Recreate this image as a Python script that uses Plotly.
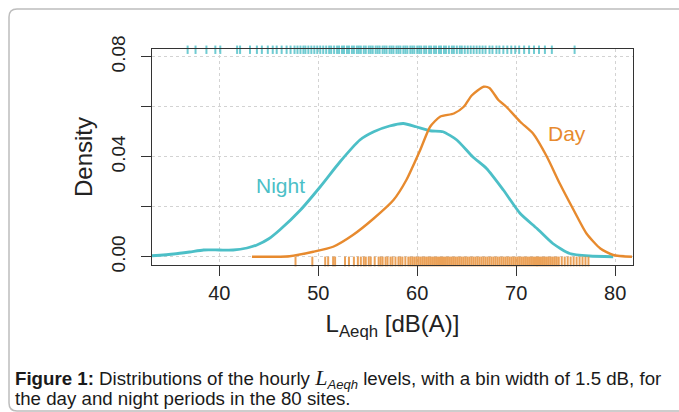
import plotly.graph_objects as go

# ---- data ----
night_x = [33.2, 35.4, 37.0, 38.4, 40.0, 41.4, 42.8, 43.8, 45.0, 46.1, 48.2, 50.2, 52.2, 54.2, 55.6,
           57.2, 58.6, 59.9, 61.3, 62.6, 64.0, 65.6, 67.0, 68.7, 70.4, 72.1, 73.7, 75.4, 77.4, 79.8]
night_y = [0.0004, 0.0011, 0.0019, 0.0027, 0.0027, 0.0027, 0.0035, 0.0047, 0.0072, 0.0107, 0.0187,
           0.0280, 0.0380, 0.0467, 0.0500, 0.0523, 0.0533, 0.0520, 0.0504, 0.0500, 0.0467, 0.0400,
           0.0353, 0.0267, 0.0173, 0.0113, 0.0053, 0.0013, 0.0003, 0.0000]

day_x = [43.3, 47.1, 49.5, 51.5, 53.5, 55.6, 57.6, 58.9, 60.3, 61.3, 62.3, 63.7, 64.7, 65.5, 66.7,
         67.3, 68.2, 69.0, 70.4, 71.7, 73.1, 74.4, 75.8, 77.1, 78.5, 79.8, 81.7]
day_y = [0.0000, 0.0002, 0.0020, 0.0040, 0.0087, 0.0153, 0.0227, 0.0307, 0.0427, 0.0520, 0.0560,
         0.0573, 0.0600, 0.0645, 0.0680, 0.0675, 0.0627, 0.0600, 0.0540, 0.0493, 0.0400, 0.0293,
         0.0187, 0.0093, 0.0033, 0.0007, 0.0000]

night_rug = [36.8, 37.6, 38.7, 39.6, 40.1, 41.8, 42.1, 43.1, 43.8, 44.3, 44.9, 45.4, 45.8, 46.3, 46.8,
             47.2, 47.6, 47.9, 48.2, 48.5, 48.7, 49.0, 49.3, 49.6, 49.9, 50.2, 50.5, 50.8, 51.1, 51.3,
             51.6, 51.9, 52.1, 52.4, 52.6, 52.9, 53.1, 53.4, 53.6, 53.9, 54.1, 54.3, 54.6, 54.8, 55.1,
             55.3, 55.5, 55.8, 56.0, 56.2, 56.5, 56.7, 56.9, 57.2, 57.4, 57.6, 57.9, 58.1, 58.3, 58.6,
             58.8, 59.0, 59.3, 59.5, 59.7, 60.0, 60.2, 60.4, 60.7, 60.9, 61.2, 61.4, 61.7, 61.9, 62.2,
             62.4, 62.7, 62.9, 63.2, 63.5, 63.7, 64.0, 64.3, 64.5, 64.8, 65.1, 65.4, 65.7, 66.0, 66.3,
             66.6, 66.9, 67.3, 67.6, 68.0, 68.3, 68.7, 69.1, 69.5, 69.9, 70.3, 70.8, 71.3, 71.8, 72.3,
             72.9, 73.6, 75.9]

day_rug = [47.7, 49.4, 50.7, 51.0, 51.5, 51.7, 52.7, 53.1, 53.6, 54.0, 54.3, 54.6, 54.8, 55.1, 55.3,
           55.7, 56.1, 56.3, 56.5, 56.8, 57.0, 57.3, 57.5, 57.8, 58.1, 58.3, 58.5, 58.8, 59.1, 59.3,
           59.5, 59.7, 59.9, 60.1, 60.3, 60.5, 60.7, 60.9, 61.1, 61.3, 61.5, 61.7, 61.9, 62.1, 62.3,
           62.5, 62.7, 62.9, 63.1, 63.3, 63.5, 63.7, 63.9, 64.1, 64.3, 64.5, 64.7, 64.9, 65.1, 65.3,
           65.5, 65.7, 65.9, 66.1, 66.3, 66.5, 66.7, 66.9, 67.1, 67.3, 67.5, 67.7, 67.9, 68.1, 68.3,
           68.5, 68.7, 68.9, 69.1, 69.3, 69.5, 69.7, 69.9, 70.1, 70.3, 70.5, 70.7, 70.9, 71.1, 71.3,
           71.5, 71.7, 71.9, 72.1, 72.3, 72.5, 72.7, 72.9, 73.1, 73.3, 73.5, 73.7, 73.9, 74.1, 74.3,
           74.6, 74.9, 75.2, 75.5, 75.8, 76.1, 76.4, 76.7, 77.0, 77.3]

x_ticks = [40, 50, 60, 70, 80]
y_ticks = [0.00, 0.04, 0.08]
y_tick_text = ["0.00", "0.04", "0.08"]
y_minor_step = 0.02

CYAN = "#4CBFC7"
ORANGE = "#E78A2E"
AXC = "#333333"
FONT = "Liberation Sans, Arial"

# plot-area geometry in pixels (for decoration placement)
W, H = 679, 412
L, R, T, B = 152, 633, 49, 265


def px(xp):
    return (xp - L) / (R - L)


def py(yp):
    return (B - yp) / (B - T)


fig = go.Figure()

fig.add_trace(go.Scatter(x=night_x, y=night_y, mode="lines", name="Night",
                         line=dict(color=CYAN, width=2.8, shape="spline", smoothing=0.6)))
fig.add_trace(go.Scatter(x=day_x, y=day_y, mode="lines", name="Day",
                         line=dict(color=ORANGE, width=2.4, shape="spline", smoothing=0.6)))

fig.add_trace(go.Scatter(x=night_rug, y=[0.0828] * len(night_rug), mode="markers",
                         marker=dict(symbol="line-ns", size=6, line=dict(color=CYAN, width=2)),
                         opacity=0.8, cliponaxis=False, hoverinfo="x"))
fig.add_trace(go.Scatter(x=day_rug, y=[-0.0019] * len(day_rug), mode="markers",
                         marker=dict(symbol="line-ns", size=7, line=dict(color=ORANGE, width=2)),
                         opacity=0.8, cliponaxis=False, hoverinfo="x"))

fig.add_annotation(x=46.2, y=0.0285, text="Night", showarrow=False,
                   font=dict(family=FONT, size=21, color=CYAN))
fig.add_annotation(x=75.1, y=0.0495, text="Day", showarrow=False,
                   font=dict(family=FONT, size=21, color=ORANGE))

# caption
fig.add_annotation(xref="paper", yref="paper", x=px(13), y=py(394), xanchor="left", yanchor="bottom",
                   showarrow=False, align="left",
                   text="<b>Figure 1:</b> Distributions of the hourly "
                        "<span style=\"font-family:'Liberation Serif';font-size:22px\"><i>L</i></span>"
                        "<sub><i>Aeqh</i></sub> levels, with a bin width of 1.5 dB, for",
                   font=dict(family=FONT, size=18.7, color="#1a1a1a"))
fig.add_annotation(xref="paper", yref="paper", x=px(13), y=py(386), xanchor="left", yanchor="top",
                   showarrow=False, align="left",
                   text="the day and night periods in the 80 sites.",
                   font=dict(family=FONT, size=18.7, color="#1a1a1a"))

# rounded panel border
rr = 8
path = (f"M {px(W + 5)},{py(9)} L {px(9 + rr)},{py(9)} Q {px(9)},{py(9)} {px(9)},{py(9 + rr)} "
        f"L {px(9)},{py(411 - rr)} Q {px(9)},{py(411)} {px(9 + rr)},{py(411)} L {px(W + 5)},{py(411)}")
fig.add_shape(type="path", xref="paper", yref="paper", path=path,
              line=dict(color="#BDBDBD", width=1.5), layer="below")

axis_common = dict(showline=True, mirror=True, linecolor=AXC, linewidth=1.3,
                   ticks="outside", ticklen=10, tickwidth=1.2, tickcolor=AXC,
                   showgrid=True, gridcolor="#D3D3D3", griddash="dot", gridwidth=1,
                   zeroline=False)

fig.update_xaxes(range=[33.2, 81.8], tickvals=x_ticks,
                 tickfont=dict(family=FONT, size=20, color="#222"),
                 title=dict(text="L<sub>Aeqh</sub> [dB(A)]", standoff=12,
                            font=dict(family=FONT, size=24, color="#222")),
                 **axis_common)
fig.update_yaxes(range=[-0.0033, 0.0831], tickvals=y_ticks, ticktext=y_tick_text, tickangle=-90,
                 ticklabelstandoff=8,
                 minor=dict(tick0=0, dtick=y_minor_step, ticks="outside", ticklen=10, tickwidth=1.2,
                            tickcolor=AXC, showgrid=True, gridcolor="#D3D3D3", griddash="dot",
                            gridwidth=1),
                 tickfont=dict(family=FONT, size=19, color="#222"),
                 title=dict(text="Density", standoff=8,
                            font=dict(family=FONT, size=24, color="#222")),
                 **axis_common)

fig.update_layout(width=W, height=H, margin=dict(l=L, r=W - R, t=T, b=H - B),
                  paper_bgcolor="white", plot_bgcolor="white", showlegend=False)

fig.write_html("out.html")
